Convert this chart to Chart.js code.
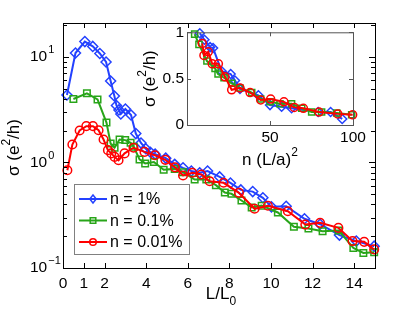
<!DOCTYPE html>
<html>
<head>
<meta charset="utf-8">
<script src="https://cdn.jsdelivr.net/npm/chart.js@4.4.0/dist/chart.umd.min.js"></script>
<style>
  html, body { margin: 0; padding: 0; background: #fff; }
  #wrap { position: relative; width: 415px; height: 313px; }
  #main { position: absolute; left: 0; top: 0; }
  #inset { position: absolute; left: 130px; top: 20px; }
</style>
</head>
<body>
<div id="wrap">
  <canvas id="main" width="415" height="313" style="width:415px;height:313px"></canvas>
  <canvas id="inset" width="240" height="155" style="width:240px;height:155px"></canvas>
</div>
<script>
// dados (sigma em e^2/h)
const lBlue = [0.19, 0.6, 1.05, 1.43, 1.77, 2.07, 2.29, 2.47, 2.57, 2.69, 2.78, 3.0, 3.27, 3.5, 3.75, 3.98, 4.2, 4.43, 4.94, 5.37, 5.77, 6.17, 6.57, 6.95, 7.53, 8.05, 8.55, 9.12, 9.61, 10.02, 10.73, 11.61, 12.36, 13.29, 14.1, 14.96]
const sBlue = [4.36, 10.9, 14.0, 12.6, 10.8, 8.97, 5.92, 4.27, 3.47, 3.15, 2.88, 3.21, 2.82, 1.88, 1.53, 1.35, 1.25, 1.2, 1.1, 0.96, 0.89, 0.83, 0.8, 0.83, 0.73, 0.64, 0.55, 0.53, 0.463, 0.38, 0.385, 0.293, 0.26, 0.205, 0.18, 0.161]

const lGreen = [0.5, 1.15, 1.66, 2.09, 2.29, 2.48, 2.72, 2.99, 3.25, 3.4, 3.68, 3.95, 4.37, 4.84, 5.37, 5.77, 6.33, 6.89, 7.35, 7.78, 8.1, 8.58, 9.07, 9.55, 10.33, 11.1, 11.8, 12.48, 13.25, 13.96, 14.44, 14.96]
const sGreen = [4.0, 4.53, 3.96, 2.39, 1.51, 1.38, 1.65, 1.63, 1.54, 1.41, 1.07, 0.98, 1.01, 0.855, 0.87, 0.81, 0.69, 0.69, 0.61, 0.52, 0.505, 0.436, 0.375, 0.39, 0.336, 0.246, 0.237, 0.223, 0.227, 0.155, 0.139, 0.141]

const lRed = [0.21, 0.45, 0.8, 1.12, 1.44, 1.71, 1.95, 2.16, 2.32, 2.48, 2.67, 2.96, 3.39, 3.92, 4.42, 4.92, 5.38, 5.77, 6.22, 6.65, 7.05, 7.72, 8.46, 9.21, 9.85, 10.81, 11.65, 12.36, 13.24, 13.92, 14.48, 14.96]
const sRed = [0.845, 1.48, 2.01, 2.21, 2.21, 2.02, 1.65, 1.31, 1.22, 1.13, 1.05, 1.22, 1.38, 1.26, 1.17, 1.06, 0.9, 0.753, 0.8, 0.77, 0.665, 0.642, 0.516, 0.364, 0.389, 0.345, 0.258, 0.268, 0.24, 0.18, 0.177, 0.15]

// inset: sigma x n (L/a)^2
const nBlue = [7.7, 10.5, 13.9, 15.7, 20.9, 26.3, 28.9, 31.9, 43, 50, 57, 63, 79, 86.5, 93.5]
const iBlue = [0.99, 0.92, 0.84, 0.83, 0.58, 0.55, 0.48, 0.39, 0.32, 0.215, 0.197, 0.18, 0.14, 0.14, 0.065]
const nGreen = [4.6, 7.2, 12, 16.9, 18.7, 22.3, 26.9, 31.9, 39, 44.4, 50, 56, 63, 69.1, 75.1, 81.1, 90.2, 99.2]
const iGreen = [0.98, 0.87, 0.69, 0.61, 0.55, 0.51, 0.45, 0.4, 0.35, 0.28, 0.25, 0.23, 0.23, 0.18, 0.14, 0.14, 0.13, 0.11]
const nRed = [9.2, 10.2, 12.8, 15.2, 18.9, 22.9, 26.9, 31.9, 38, 44.4, 50.4, 58.4, 64.6, 70.1, 79.5, 90.8, 99.8]
const iRed = [0.88, 0.75, 0.79, 0.66, 0.66, 0.52, 0.38, 0.4, 0.35, 0.27, 0.28, 0.25, 0.19, 0.18, 0.14, 0.12, 0.11]

const legendLabels = ['n = 1%', 'n = 0.1%', 'n = 0.01%']
const xTicks = [0, 1, 2, 4, 6, 8, 10, 12, 14]
const yLabels = [0.1, 1, 10]
const yLabelExp = ['\u22121', '0', '1']
const insetXTicks = [50, 100]
const insetYTicks = [0, 0.5, 1]

const FONT = '"Liberation Sans", Arial, sans-serif'
const BLUE = 'rgb(35,65,255)'
const GREEN = 'rgb(40,165,25)'
const RED = 'rgb(255,0,0)'

function pts(xs, ys) {
    return xs.map((x, i) => ({ x: x, y: ys[i] }))
}

function series(label, xs, ys, color, style, r, order) {
    return {
        label: label,
        data: pts(xs, ys),
        borderColor: color,
        backgroundColor: color,
        pointBorderColor: color,
        pointBackgroundColor: 'rgba(255,255,255,0)',
        pointStyle: style,
        pointRadius: r,
        pointBorderWidth: 1.5,
        borderWidth: 2,
        tension: 0,
        clip: false,
        order: order
    }
}

// texto com sobrescrito / subscrito
function richText(ctx, parts, cx, cy, rot) {
    ctx.save()
    ctx.translate(cx, cy)
    if (rot) ctx.rotate(rot)
    ctx.textBaseline = 'middle'
    ctx.textAlign = 'left'
    let total = 0
    parts.forEach(p => { ctx.font = p.size + 'px ' + FONT; p.w = ctx.measureText(p.t).width; total += p.w })
    let x = -total / 2
    parts.forEach(p => {
        ctx.font = p.size + 'px ' + FONT
        ctx.fillText(p.t, x, p.dy || 0)
        x += p.w
    })
    ctx.restore()
}

function marker(ctx, style, x, y, r) {
    ctx.beginPath()
    if (style === 'rectRot') {
        ctx.moveTo(x, y - r); ctx.lineTo(x + r * 0.8, y); ctx.lineTo(x, y + r); ctx.lineTo(x - r * 0.8, y); ctx.closePath()
    } else if (style === 'rect') {
        ctx.rect(x - r, y - r, 2 * r, 2 * r)
    } else {
        ctx.arc(x, y, r, 0, Math.PI * 2)
    }
    ctx.stroke()
}

const mainDecor = {
    id: 'mainDecor',
    afterDraw(chart) {
        const ctx = chart.ctx
        const a = chart.chartArea
        const x = chart.scales.x
        const y = chart.scales.y
        ctx.save()
        ctx.strokeStyle = '#000'
        ctx.lineWidth = 1
        ctx.strokeRect(a.left + 0.5, a.top + 0.5, a.right - a.left, a.bottom - a.top)
        ctx.beginPath()
        xTicks.forEach(v => {
            const px = Math.round(x.getPixelForValue(v)) + 0.5
            ctx.moveTo(px, a.bottom); ctx.lineTo(px, a.bottom - 5)
            ctx.moveTo(px, a.top); ctx.lineTo(px, a.top + 5)
        })
        y.ticks.forEach(t => {
            const py = Math.round(y.getPixelForValue(t.value)) + 0.5
            const len = t.major ? 6 : 4
            ctx.moveTo(a.left, py); ctx.lineTo(a.left + len, py)
            ctx.moveTo(a.right, py); ctx.lineTo(a.right - len, py)
        })
        ctx.stroke()

        // rotulos do eixo y (10^n)
        ctx.fillStyle = '#000'
        ctx.textBaseline = 'middle'
        ctx.textAlign = 'left'
        yLabels.forEach((v, i) => {
            const py = y.getPixelForValue(v)
            ctx.font = '15.5px ' + FONT
            ctx.fillText('10', 30, py)
            const w = ctx.measureText('10').width
            ctx.font = '11px ' + FONT
            ctx.fillText(yLabelExp[i], 30 + w + 1, py - 7)
        })

        // titulos
        richText(ctx, [{ t: 'L/L', size: 17 }, { t: '0', size: 12, dy: 8 }], (a.left + a.right) / 2 + 2, a.bottom + 26)
        richText(ctx, [{ t: '\u03c3 (e', size: 17 }, { t: '2', size: 12, dy: -7 }, { t: '/h)', size: 17 }], 14, (a.top + a.bottom) / 2 + 2, -Math.PI / 2)

        // legenda
        const lx = 74, ly = 184, lw = 115, lh = 70
        ctx.fillStyle = '#fff'
        ctx.fillRect(lx, ly, lw, lh)
        ctx.strokeStyle = '#808080'
        ctx.strokeRect(lx + 0.5, ly + 0.5, lw, lh)
        const colors = [BLUE, GREEN, RED]
        const styles = ['rectRot', 'rect', 'circle']
        const sizes = [4, 2.8, 3.3]
        legendLabels.forEach((txt, i) => {
            const yy = ly + 15 + i * 21.5
            ctx.strokeStyle = colors[i]
            ctx.lineWidth = 2
            ctx.beginPath(); ctx.moveTo(lx + 5, yy); ctx.lineTo(lx + 33, yy); ctx.stroke()
            ctx.lineWidth = 1.5
            marker(ctx, styles[i], lx + 19, yy, sizes[i])
            ctx.fillStyle = '#000'
            ctx.font = '16px ' + FONT
            ctx.textBaseline = 'middle'
            ctx.fillText(txt, lx + 36, yy + 1)
        })
        ctx.restore()
    }
}

new Chart(document.getElementById('main'), {
    type: 'line',
    data: {
        datasets: [
            series(legendLabels[0], lBlue, sBlue, BLUE, 'rectRot', 5, 2),
            series(legendLabels[1], lGreen, sGreen, GREEN, 'rect', 4.6, 1),
            series(legendLabels[2], lRed, sRed, RED, 'circle', 4.3, 0)
        ]
    },
    options: {
        responsive: false,
        animation: false,
        layout: { padding: { top: 23, right: 40, left: 0, bottom: 0 } },
        plugins: { legend: { display: false }, tooltip: { enabled: false } },
        scales: {
            x: {
                type: 'linear',
                min: 0,
                max: 15,
                afterBuildTicks: function (scale) { scale.ticks = xTicks.map(v => ({ value: v })) },
                afterFit: function (scale) { scale.height = 45 },
                grid: { display: false, drawTicks: false },
                border: { display: false },
                ticks: { padding: 6, color: '#000', font: { family: FONT, size: 15.5 }, maxRotation: 0, autoSkip: false, callback: v => String(v) }
            },
            y: {
                type: 'logarithmic',
                min: 0.1,
                max: 21,
                afterBuildTicks: function (scale) {
                    const t = []
                    yLabels.forEach(d => {
                        for (let k = 1; k < 10; k++) {
                            const v = +(d * k).toPrecision(2)
                            if (v <= 21) t.push({ value: v, major: k === 1 })
                        }
                    })
                    scale.ticks = t
                },
                afterFit: function (scale) { scale.width = 63 },
                grid: { display: false, drawTicks: false },
                border: { display: false },
                ticks: { display: false }
            }
        }
    },
    plugins: [mainDecor]
})

const insetDecor = {
    id: 'insetDecor',
    beforeDraw(chart) {
        const a = chart.chartArea
        chart.ctx.save()
        chart.ctx.fillStyle = '#fff'
        chart.ctx.fillRect(a.left, a.top, a.right - a.left, a.bottom - a.top)
        chart.ctx.restore()
    },
    afterDraw(chart) {
        const ctx = chart.ctx
        const a = chart.chartArea
        const x = chart.scales.x
        const y = chart.scales.y
        ctx.save()
        ctx.strokeStyle = '#555'
        ctx.lineWidth = 1
        ctx.strokeRect(a.left + 0.5, a.top + 0.5, a.right - a.left, a.bottom - a.top)
        ctx.beginPath()
        insetXTicks.forEach(v => {
            const px = Math.round(x.getPixelForValue(v)) + 0.5
            ctx.moveTo(px, a.bottom); ctx.lineTo(px, a.bottom - 4)
            ctx.moveTo(px, a.top); ctx.lineTo(px, a.top + 4)
        })
        insetYTicks.forEach(v => {
            const py = Math.round(y.getPixelForValue(v)) + 0.5
            ctx.moveTo(a.left, py); ctx.lineTo(a.left + 4, py)
            ctx.moveTo(a.right, py); ctx.lineTo(a.right - 4, py)
        })
        ctx.stroke()
        ctx.fillStyle = '#000'
        richText(ctx, [{ t: 'n (L/a)', size: 17 }, { t: '2', size: 12, dy: -7 }], (a.left + a.right) / 2, a.bottom + 35)
        richText(ctx, [{ t: '\u03c3 (e', size: 17 }, { t: '2', size: 12, dy: -7 }, { t: '/h)', size: 17 }], 20, (a.top + a.bottom) / 2, -Math.PI / 2)
        ctx.restore()
    }
}

new Chart(document.getElementById('inset'), {
    type: 'line',
    data: {
        datasets: [
            series(legendLabels[0], nBlue, iBlue, BLUE, 'rectRot', 4.5, 2),
            series(legendLabels[1], nGreen, iGreen, GREEN, 'rect', 4.3, 1),
            series(legendLabels[2], nRed, iRed, RED, 'circle', 4, 0)
        ]
    },
    options: {
        responsive: false,
        animation: false,
        layout: { padding: { top: 12, right: 17, left: 0, bottom: 0 } },
        plugins: { legend: { display: false }, tooltip: { enabled: false } },
        scales: {
            x: {
                type: 'linear',
                min: 0,
                max: 100,
                afterBuildTicks: function (scale) { scale.ticks = insetXTicks.map(v => ({ value: v })) },
                afterFit: function (scale) { scale.height = 50 },
                grid: { display: false, drawTicks: false },
                border: { display: false },
                ticks: { padding: 3, color: '#000', font: { family: FONT, size: 15.5 }, maxRotation: 0, autoSkip: false, callback: v => String(v) }
            },
            y: {
                type: 'linear',
                min: 0,
                max: 1,
                afterBuildTicks: function (scale) { scale.ticks = insetYTicks.map(v => ({ value: v })) },
                afterFit: function (scale) { scale.width = 57 },
                grid: { display: false, drawTicks: false },
                border: { display: false },
                ticks: { padding: 3, color: '#000', font: { family: FONT, size: 15.5 }, autoSkip: false, callback: v => String(v) }
            }
        }
    },
    plugins: [insetDecor]
})
</script>
</body>
</html>
